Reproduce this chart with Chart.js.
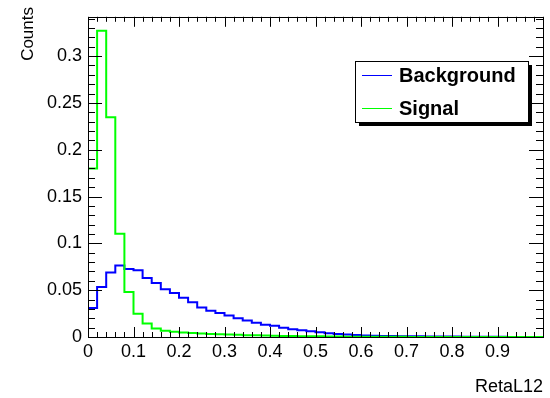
<!DOCTYPE html>
<html>
<head>
<meta charset="utf-8">
<script src="https://cdn.jsdelivr.net/npm/chart.js@4"></script>
<style>
  html, body { margin: 0; padding: 0; background: #fff; }
  canvas { display: block; }
</style>
</head>
<body>
<canvas id="canvas" width="550" height="398"></canvas>
<script>
// Bin edges of RetaL12 (50 bins, 0 -> 1)
const binEdges = [0, 0.02, 0.04, 0.06, 0.08, 0.1, 0.12, 0.14, 0.16, 0.18,
    0.2, 0.22, 0.24, 0.26, 0.28, 0.3, 0.32, 0.34, 0.36, 0.38,
    0.4, 0.42, 0.44, 0.46, 0.48, 0.5, 0.52, 0.54, 0.56, 0.58,
    0.6, 0.62, 0.64, 0.66, 0.68, 0.7, 0.72, 0.74, 0.76, 0.78,
    0.8, 0.82, 0.84, 0.86, 0.88, 0.9, 0.92, 0.94, 0.96, 0.98, 1.0];

// Contenu des bins (normalisé)
const background = [0.031, 0.0535, 0.069, 0.0763, 0.0727, 0.0713, 0.063, 0.0577, 0.051, 0.047,
    0.042, 0.037, 0.0316, 0.028, 0.0257, 0.023, 0.020, 0.0177, 0.0153, 0.0132,
    0.012, 0.010, 0.0083, 0.0073, 0.0062, 0.0052, 0.0040, 0.0032, 0.0026, 0.0021,
    0.0017, 0.0014, 0.0012, 0.0010, 0.0009, 0.0008, 0.0007, 0.0006, 0.0006, 0.0005,
    0.0005, 0.0004, 0.0004, 0.0003, 0.0003, 0.0002, 0, 0, 0, 0];

const signal = [0.180, 0.327, 0.2347, 0.1104, 0.048, 0.0248, 0.0143, 0.009, 0.0068, 0.0055,
    0.0048, 0.0042, 0.0037, 0.0033, 0.0029, 0.0026, 0.0023, 0.0020, 0.0018, 0.0016,
    0.0014, 0.0012, 0.0011, 0.0009, 0.0008, 0.0007, 0.0006, 0.0005, 0.0004, 0.0004,
    0.0003, 0.0003, 0.0002, 0.0002, 0.0002, 0.0001, 0.0001, 0.0001, 0.0001, 0.0001,
    0.0001, 0.0001, 0.0001, 0.0001, 0.0001, 0, 0, 0, 0, 0];

const xTickLabels = ['0', '0.1', '0.2', '0.3', '0.4', '0.5', '0.6', '0.7', '0.8', '0.9'];
const yTickLabels = ['0', '0.05', '0.1', '0.15', '0.2', '0.25', '0.3'];

const series = [
    { name: 'Signal', values: signal, color: '#00ff00' },
    { name: 'Background', values: background, color: '#0000ff' }
];
const legendOrder = ['Background', 'Signal'];

const FONT = '"Liberation Sans", Arial, Helvetica, sans-serif';

// points aux bords des bins, dernier point répété à x = 1
function toSteps(values) {
    return binEdges.map((x, i) => ({ x: x, y: values[Math.min(i, values.length - 1)] }));
}

/**
 * Ticks à l'intérieur du cadre, façon ROOT, plus légende et titres.
 */
const rootFrame = {
    id: 'rootFrame',
    afterDraw(chart) {
        const ctx = chart.ctx;
        const a = chart.chartArea;
        const xs = chart.scales.x;
        const ys = chart.scales.y;
        ctx.save();
        ctx.strokeStyle = '#000';
        ctx.lineWidth = 1;

        // cadre
        ctx.strokeRect(Math.round(a.left) + 0.5, Math.round(a.top) + 0.5,
            Math.round(a.right - a.left), Math.round(a.bottom - a.top));

        ctx.beginPath();
        // ticks x : mineurs tous les 0.02, majeurs tous les 0.1
        for (let i = 0; i <= 50; i++) {
            const px = Math.round(xs.getPixelForValue(i / 50)) + 0.5;
            const len = (i % 5 === 0) ? 10 : 5;
            ctx.moveTo(px, a.bottom); ctx.lineTo(px, a.bottom - len);
            ctx.moveTo(px, a.top); ctx.lineTo(px, a.top + len);
        }
        // ticks y : mineurs tous les 0.01, majeurs tous les 0.05
        for (let i = 0; i <= 34; i++) {
            const py = Math.round(ys.getPixelForValue(i / 100)) + 0.5;
            const len = (i % 5 === 0) ? 14 : 7;
            ctx.moveTo(a.left, py); ctx.lineTo(a.left + len, py);
            ctx.moveTo(a.right, py); ctx.lineTo(a.right - len, py);
        }
        ctx.stroke();

        // titres des axes
        ctx.fillStyle = '#000';
        ctx.font = '18px ' + FONT;
        ctx.textAlign = 'right';
        ctx.textBaseline = 'alphabetic';
        ctx.fillText('RetaL12', a.right, 392);

        ctx.save();
        ctx.translate(33, 7);
        ctx.rotate(-Math.PI / 2);
        ctx.font = '17px ' + FONT;
        ctx.fillText('Counts', 0, 0);
        ctx.restore();

        // légende avec ombre
        const lx = 355, ly = 61, lw = 173, lh = 61;
        ctx.fillStyle = '#000';
        ctx.fillRect(lx + 4, ly + 4, lw, lh);
        ctx.fillStyle = '#fff';
        ctx.fillRect(lx, ly, lw, lh);
        ctx.strokeRect(lx + 0.5, ly + 0.5, lw, lh);

        ctx.font = 'bold 20px ' + FONT;
        ctx.textAlign = 'left';
        ctx.textBaseline = 'middle';
        legendOrder.forEach((name, k) => {
            const s = series.find(e => e.name === name);
            const y = 75.5 + k * 33;
            ctx.strokeStyle = s.color;
            ctx.beginPath();
            ctx.moveTo(362, y); ctx.lineTo(392, y);
            ctx.stroke();
            ctx.fillStyle = '#000';
            ctx.fillText(name, 399, y + 1);
        });
        ctx.restore();
    }
};

const config = {
    type: 'line',
    data: {
        datasets: series.map(s => ({
            label: s.name,
            data: toSteps(s.values),
            borderColor: s.color,
            borderWidth: 2,
            stepped: 'before',
            pointRadius: 0,
            fill: false,
            clip: 3
        }))
    },
    options: {
        responsive: false,
        animation: false,
        devicePixelRatio: 1,
        layout: { padding: { left: 0, top: 9, right: 7, bottom: 0 } },
        plugins: {
            legend: { display: false },
            tooltip: { enabled: false }
        },
        scales: {
            x: {
                type: 'linear',
                min: 0,
                max: 1,
                grid: { display: false, drawTicks: false },
                border: { display: false },
                ticks: {
                    stepSize: 0.1,
                    includeBounds: false,
                    padding: 4,
                    maxRotation: 0,
                    autoSkip: false,
                    color: '#000',
                    font: { family: FONT, size: 18 },
                    callback: (v) => xTickLabels[Math.round(v * 10)] || ''
                },
                afterFit: (s) => { s.height = 61; }
            },
            y: {
                type: 'linear',
                min: 0,
                max: 0.342,
                grid: { display: false, drawTicks: false },
                border: { display: false },
                ticks: {
                    stepSize: 0.05,
                    includeBounds: false,
                    padding: 6,
                    autoSkip: false,
                    color: '#000',
                    font: { family: FONT, size: 18 },
                    callback: (v) => yTickLabels[Math.round(v * 20)] || ''
                },
                afterFit: (s) => { s.width = 88; }
            }
        }
    },
    plugins: [rootFrame]
};

let myHisto = new Chart('canvas', config);
</script>
</body>
</html>
